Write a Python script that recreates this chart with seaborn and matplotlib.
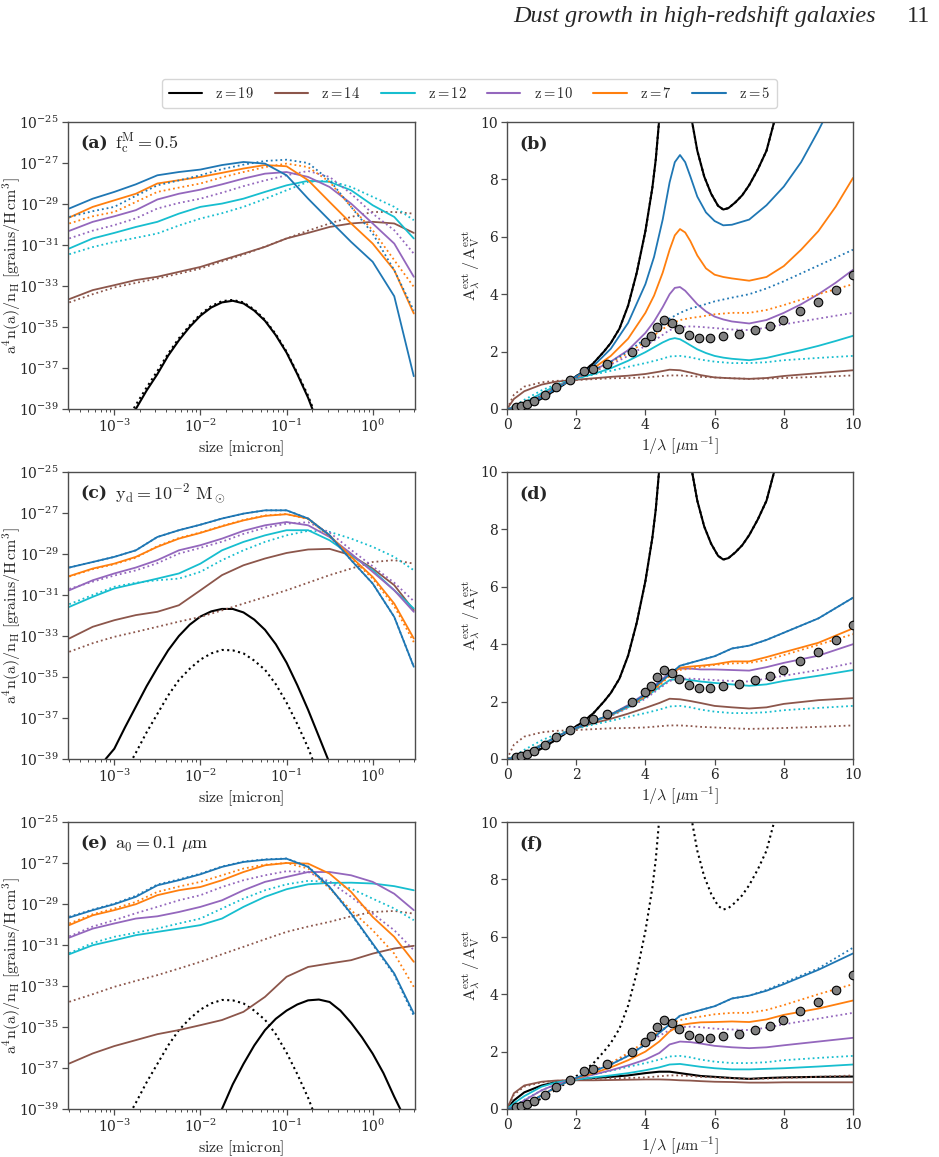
import numpy as np
import matplotlib
matplotlib.use("Agg")
import matplotlib.pyplot as plt
from matplotlib.lines import Line2D
from matplotlib.ticker import NullLocator, FixedLocator
import seaborn as sns

sns.set_style("ticks")
plt.rcParams['font.family'] = ['DejaVu Serif']
plt.rcParams['mathtext.fontset'] = 'cm'

# ---------------- data ----------------
redshifts = ["19", "14", "12", "10", "7", "5"]
colors = ["black", "#8c564b", "#17becf", "#9467bd", "#ff7f0e", "#1f77b4"]

# grain size grid [micron] for size distributions
size_um = [3.0e-4, 5.62e-4, 1.0e-3, 1.78e-3, 3.16e-3, 5.62e-3, 1.0e-2, 1.78e-2,
           3.16e-2, 5.62e-2, 0.1, 0.178, 0.316, 0.562, 1.0, 1.78, 3.0]

# log10[a^4 n(a)/n_H] panel (a)
a_z14_sol = [-33.64, -33.2, -32.96, -32.71, -32.55, -32.31, -32.07, -31.74, -31.42, -31.09, -30.68, -30.41, -30.12, -29.95, -29.87, -29.95, -30.41]
a_z14_dot = [-33.8, -33.4, -33.07, -32.85, -32.63, -32.4, -32.15, -31.8, -31.47, -31.08, -30.68, -30.3, -29.95, -29.63, -29.39, -29.39, -29.47]
a_z12_sol = [-31.17, -30.68, -30.41, -30.12, -29.87, -29.47, -29.14, -28.98, -28.74, -28.41, -28.09, -27.87, -27.92, -28.33, -29.06, -29.63, -30.68]
a_z12_dot = [-31.45, -31.1, -30.85, -30.65, -30.44, -30.05, -29.71, -29.45, -29.14, -28.75, -28.33, -27.92, -27.87, -28.17, -28.65, -29.14, -29.79]
a_z10_sol = [-30.31, -29.87, -29.6, -29.3, -28.78, -28.5, -28.3, -28.04, -27.76, -27.52, -27.44, -27.68, -28.17, -28.98, -29.95, -30.93, -32.55]
a_z10_dot = [-30.68, -30.3, -30.03, -29.7, -29.22, -28.95, -28.74, -28.45, -28.13, -27.85, -27.6, -27.39, -27.68, -28.5, -29.47, -30.28, -31.42]
a_z7_sol = [-29.66, -29.14, -28.82, -28.5, -28.0, -27.84, -27.68, -27.48, -27.27, -27.1, -27.16, -27.84, -28.9, -29.95, -30.93, -32.23, -34.34]
a_z7_dot = [-29.95, -29.6, -29.39, -28.9, -28.41, -28.2, -28.0, -27.7, -27.44, -27.2, -27.03, -27.2, -27.92, -29.14, -30.28, -31.74, -33.04]
a_z5_sol = [-29.22, -28.74, -28.41, -28.04, -27.6, -27.44, -27.32, -27.1, -26.95, -27.03, -27.6, -28.74, -29.8, -30.85, -31.82, -33.5, -37.4]
a_z5_dot = [-29.63, -29.35, -29.14, -28.6, -28.09, -27.85, -27.6, -27.3, -27.08, -26.9, -26.84, -27.0, -27.84, -29.14, -30.44, -32.23, -34.2]
# z=19 log-normal-like bumps: log10 size and log10 value
a_z19_logsize = [-2.9, -2.75, -2.625, -2.5, -2.375, -2.25, -2.125, -2.0, -1.875, -1.75, -1.625, -1.5, -1.375, -1.25, -1.125, -1.0, -0.875, -0.75, -0.7, -0.6]
a_z19_sol = [-40.1, -39.0, -38.1, -37.3, -36.4, -35.65, -35.0, -34.45, -34.05, -33.8, -33.72, -33.85, -34.2, -34.7, -35.4, -36.25, -37.3, -38.45, -39.0, -40.0]
a_z19_dot = [-39.9, -38.8, -37.95, -37.15, -36.3, -35.55, -34.92, -34.38, -33.98, -33.74, -33.68, -33.8, -34.15, -34.65, -35.35, -36.2, -37.25, -38.35, -38.9, -39.9]

# panel (c)
c_z14_sol = [-33.12, -32.55, -32.23, -31.98, -31.82, -31.5, -30.77, -30.03, -29.55, -29.22, -28.95, -28.78, -28.75, -29.06, -29.71, -30.52, -31.74]
c_z14_dot = [-33.77, -33.35, -33.04, -32.8, -32.55, -32.3, -32.07, -31.75, -31.42, -31.1, -30.77, -30.4, -30.03, -29.71, -29.39, -29.3, -29.47]
c_z12_sol = [-31.58, -31.09, -30.68, -30.44, -30.2, -29.95, -29.47, -28.82, -28.41, -28.09, -27.84, -27.84, -28.33, -29.06, -29.79, -30.77, -31.66]
c_z12_dot = [-31.45, -31.0, -30.6, -30.4, -30.28, -30.2, -29.87, -29.3, -28.82, -28.41, -28.09, -27.87, -27.92, -28.25, -28.65, -29.14, -29.79]
c_z10_sol = [-30.77, -30.28, -29.95, -29.66, -29.3, -28.82, -28.57, -28.25, -27.87, -27.6, -27.44, -27.6, -28.17, -28.98, -29.87, -30.77, -31.82]
c_z10_dot = [-30.7, -30.35, -30.05, -29.8, -29.45, -28.98, -28.7, -28.4, -28.02, -27.72, -27.52, -27.45, -27.95, -28.8, -29.6, -30.4, -31.3]
c_z7_sol = [-30.08, -29.71, -29.47, -29.14, -28.65, -28.25, -27.97, -27.65, -27.36, -27.14, -27.06, -27.27, -28.09, -29.14, -30.12, -31.42, -33.12]
c_z7_dot = [-30.1, -29.74, -29.5, -29.18, -28.62, -28.22, -27.95, -27.63, -27.34, -27.12, -27.05, -27.3, -28.15, -29.2, -30.2, -31.55, -33.3]
c_z5_sol = [-29.66, -29.39, -29.14, -28.82, -28.17, -27.84, -27.57, -27.27, -27.03, -26.87, -26.87, -27.27, -28.09, -29.3, -30.44, -32.07, -34.5]
c_z5_dot = [-29.66, -29.39, -29.14, -28.82, -28.17, -27.84, -27.57, -27.27, -27.03, -26.87, -26.87, -27.27, -28.09, -29.3, -30.44, -32.07, -34.5]
c_z19_sol_logsize = [-3.25, -3.1, -3.0, -2.875, -2.75, -2.625, -2.5, -2.375, -2.25, -2.125, -2.0, -1.875, -1.75, -1.625, -1.5, -1.375, -1.25, -1.125, -1.0, -0.875, -0.75, -0.625, -0.52, -0.4]
c_z19_sol = [-41.0, -39.0, -38.5, -37.45, -36.45, -35.45, -34.55, -33.7, -33.0, -32.45, -32.05, -31.8, -31.68, -31.68, -31.85, -32.2, -32.7, -33.4, -34.3, -35.4, -36.6, -37.9, -39.0, -40.5]
c_z19_dot_logsize = [-2.9, -2.79, -2.75, -2.625, -2.5, -2.375, -2.25, -2.125, -2.0, -1.875, -1.75, -1.625, -1.5, -1.375, -1.25, -1.125, -1.0, -0.875, -0.75, -0.7, -0.6]
c_z19_dot = [-39.9, -39.0, -38.7, -37.7, -36.8, -35.9, -35.15, -34.6, -34.15, -33.85, -33.68, -33.7, -33.85, -34.2, -34.65, -35.35, -36.25, -37.3, -38.45, -39.0, -40.0]

# panel (e)
e_z14_sol = [-36.78, -36.29, -35.93, -35.64, -35.35, -35.15, -34.91, -34.66, -34.26, -33.53, -32.55, -32.07, -31.9, -31.74, -31.42, -31.17, -31.04]
e_z14_dot = [-33.77, -33.4, -33.04, -32.75, -32.47, -32.15, -31.82, -31.45, -31.09, -30.72, -30.36, -30.1, -29.87, -29.6, -29.39, -29.34, -29.47]
e_z12_sol = [-31.45, -31.01, -30.77, -30.52, -30.36, -30.2, -30.03, -29.71, -29.14, -28.65, -28.28, -28.04, -27.97, -27.96, -28.0, -28.13, -28.33]
e_z12_dot = [-31.4, -30.9, -30.6, -30.4, -30.2, -29.95, -29.71, -29.22, -28.74, -28.33, -28.04, -27.87, -27.92, -28.25, -28.74, -29.22, -29.79]
e_z10_sol = [-30.64, -30.2, -29.95, -29.71, -29.6, -29.39, -29.14, -28.82, -28.33, -27.92, -27.68, -27.44, -27.44, -27.6, -27.92, -28.5, -29.3]
e_z10_dot = [-30.58, -30.1, -29.79, -29.45, -29.14, -28.82, -28.57, -28.17, -27.84, -27.6, -27.4, -27.44, -27.92, -28.65, -29.47, -30.28, -31.25]
e_z7_sol = [-30.03, -29.55, -29.3, -29.01, -28.57, -28.33, -28.17, -27.84, -27.44, -27.11, -27.0, -27.03, -27.52, -28.41, -29.63, -30.6, -31.82]
e_z7_dot = [-29.95, -29.5, -29.22, -28.9, -28.41, -28.15, -27.92, -27.6, -27.27, -27.08, -27.0, -27.27, -28.25, -29.3, -30.28, -31.42, -33.04]
e_z5_sol = [-29.66, -29.3, -29.01, -28.65, -28.09, -27.84, -27.55, -27.19, -26.95, -26.84, -26.79, -27.19, -28.17, -29.47, -30.93, -32.39, -34.34]
e_z5_dot = [-29.62, -29.27, -28.98, -28.6, -28.05, -27.8, -27.52, -27.17, -26.93, -26.82, -26.78, -27.17, -28.17, -29.5, -30.98, -32.45, -34.45]
e_z19_sol_logsize = [-1.9, -1.75, -1.625, -1.5, -1.375, -1.25, -1.125, -1.0, -0.875, -0.75, -0.625, -0.5, -0.375, -0.25, -0.125, 0.0, 0.125, 0.25, 0.32, 0.45]
e_z19_sol = [-40.3, -39.0, -37.8, -36.8, -35.9, -35.15, -34.6, -34.2, -33.9, -33.7, -33.66, -33.78, -34.2, -34.8, -35.5, -36.3, -37.25, -38.4, -39.0, -40.5]
e_z19_dot_logsize = c_z19_dot_logsize
e_z19_dot = c_z19_dot

# extinction curves: inverse wavelength grids [1/micron]
inv_wl = [0, 0.2, 0.5, 1.0, 1.4, 1.82, 2.5, 3.0, 3.5, 4.0, 4.4, 4.7, 5.0, 5.3, 5.6, 6.0, 6.5, 7.0, 7.5, 8.0, 9.0, 10.0]
inv_wl_fine = [0, 0.2, 0.5, 1.0, 1.4, 1.82, 2.5, 3.0, 3.5, 4.0, 4.25, 4.5, 4.7, 4.85, 5.0, 5.15, 5.3, 5.5, 5.75, 6.0, 6.25, 6.5, 7.0, 7.5, 8.0, 8.5, 9.0, 9.5, 10.0]
inv_wl_z19 = [0, 0.5, 1.0, 1.4, 1.82, 2.2, 2.5, 2.8, 3.0, 3.25, 3.5, 3.75, 4.0, 4.2, 4.3, 4.4, 4.6, 5.0, 5.25, 5.35, 5.5, 5.7, 5.9, 6.1, 6.25, 6.4, 6.6, 6.8, 7.0, 7.25, 7.5, 7.72, 8.0, 9.0, 10.0]
ext_z19_bump = [0, 0.12, 0.36, 0.66, 1.0, 1.3, 1.6, 2.0, 2.3, 2.8, 3.6, 4.75, 6.2, 7.7, 8.7, 10.1, 13.0, 16.0, 12.0, 10.0, 9.0, 8.1, 7.5, 7.08, 6.95, 7.0, 7.2, 7.45, 7.8, 8.35, 9.0, 10.0, 11.0, 15.0, 20.0]

b_z14_sol = [0, 0.35, 0.62, 0.85, 0.95, 1.0, 1.07, 1.12, 1.16, 1.22, 1.3, 1.37, 1.35, 1.27, 1.18, 1.1, 1.07, 1.05, 1.08, 1.15, 1.25, 1.35]
b_z14_dot = [0, 0.5, 0.78, 0.93, 0.98, 1.0, 1.04, 1.07, 1.08, 1.1, 1.14, 1.17, 1.17, 1.15, 1.12, 1.1, 1.07, 1.05, 1.06, 1.08, 1.12, 1.17]
b_z12_sol = [0, 0.06, 0.22, 0.55, 0.8, 1.0, 1.22, 1.42, 1.68, 1.98, 2.15, 2.32, 2.43, 2.47, 2.43, 2.33, 2.22, 2.08, 1.95, 1.85, 1.79, 1.75, 1.7, 1.78, 1.92, 2.05, 2.2, 2.37, 2.55]
b_z12_dot = [0, 0.1, 0.32, 0.65, 0.85, 1.0, 1.2, 1.33, 1.47, 1.6, 1.72, 1.83, 1.85, 1.8, 1.72, 1.65, 1.6, 1.6, 1.63, 1.7, 1.78, 1.85]
b_z10_sol = [0, 0.04, 0.16, 0.47, 0.75, 1.0, 1.35, 1.65, 2.05, 2.65, 3.05, 3.55, 4.0, 4.22, 4.25, 4.12, 3.92, 3.65, 3.4, 3.22, 3.12, 3.05, 2.98, 3.1, 3.35, 3.65, 4.0, 4.4, 4.85]
b_z10_dot = [0, 0.04, 0.16, 0.47, 0.75, 1.0, 1.3, 1.55, 1.85, 2.2, 2.5, 2.75, 2.85, 2.88, 2.86, 2.82, 2.77, 2.75, 2.83, 2.95, 3.15, 3.35]
b_z7_sol = [0, 0.03, 0.14, 0.43, 0.72, 1.0, 1.42, 1.85, 2.45, 3.35, 3.95, 4.75, 5.55, 6.05, 6.27, 6.15, 5.85, 5.35, 4.9, 4.68, 4.6, 4.55, 4.47, 4.6, 4.98, 5.55, 6.2, 7.05, 8.05]
b_z7_dot = [0, 0.04, 0.15, 0.45, 0.73, 1.0, 1.33, 1.6, 1.95, 2.35, 2.7, 2.95, 3.1, 3.17, 3.22, 3.3, 3.35, 3.35, 3.45, 3.62, 4.0, 4.35]
b_z5_sol = [0, 0.03, 0.12, 0.4, 0.7, 1.0, 1.5, 2.1, 3.0, 4.35, 5.3, 6.6, 7.9, 8.6, 8.85, 8.6, 8.1, 7.4, 6.85, 6.55, 6.4, 6.42, 6.6, 7.1, 7.75, 8.6, 9.7, 10.9, 12.0]
b_z5_dot = [0, 0.04, 0.16, 0.47, 0.75, 1.0, 1.35, 1.65, 2.0, 2.45, 2.85, 3.15, 3.35, 3.5, 3.6, 3.75, 3.88, 4.0, 4.2, 4.45, 5.0, 5.55]

d_z14_sol = [0, 0.06, 0.2, 0.5, 0.76, 1.0, 1.25, 1.4, 1.58, 1.78, 1.95, 2.1, 2.08, 2.02, 1.95, 1.85, 1.8, 1.76, 1.8, 1.92, 2.05, 2.12]
d_z14_dot = b_z14_dot
d_z12_sol = [0, 0.05, 0.18, 0.5, 0.76, 1.0, 1.3, 1.52, 1.8, 2.15, 2.5, 2.75, 2.8, 2.75, 2.7, 2.65, 2.6, 2.55, 2.6, 2.72, 2.9, 3.1]
d_z12_dot = b_z12_dot
d_z10_sol = [0, 0.04, 0.16, 0.47, 0.75, 1.0, 1.32, 1.55, 1.88, 2.28, 2.7, 3.0, 3.15, 3.15, 3.12, 3.12, 3.1, 3.08, 3.2, 3.35, 3.6, 4.0]
d_z10_dot = [0, 0.04, 0.16, 0.47, 0.75, 1.0, 1.3, 1.5, 1.78, 2.1, 2.45, 2.72, 2.8, 2.8, 2.78, 2.75, 2.72, 2.7, 2.8, 2.9, 3.1, 3.35]
d_z7_sol = [0, 0.04, 0.16, 0.47, 0.75, 1.0, 1.32, 1.55, 1.85, 2.2, 2.6, 2.95, 3.18, 3.22, 3.25, 3.3, 3.4, 3.4, 3.55, 3.72, 4.05, 4.55]
d_z7_dot = [0, 0.04, 0.16, 0.47, 0.75, 1.0, 1.3, 1.52, 1.82, 2.17, 2.55, 2.9, 3.1, 3.15, 3.2, 3.28, 3.33, 3.35, 3.45, 3.62, 3.98, 4.35]
d_z5_sol = [0, 0.04, 0.16, 0.47, 0.75, 1.0, 1.32, 1.55, 1.85, 2.25, 2.65, 2.95, 3.25, 3.35, 3.45, 3.58, 3.85, 3.95, 4.15, 4.4, 4.9, 5.62]
d_z5_dot = d_z5_sol

f_z19_sol = [0, 0.3, 0.58, 0.82, 0.93, 1.0, 1.08, 1.12, 1.17, 1.25, 1.3, 1.3, 1.25, 1.2, 1.15, 1.12, 1.08, 1.05, 1.08, 1.1, 1.12, 1.13]
f_z14_sol = [0, 0.55, 0.82, 0.95, 0.99, 1.0, 1.0, 1.01, 1.02, 1.03, 1.03, 1.02, 1.0, 0.99, 0.97, 0.95, 0.94, 0.92, 0.92, 0.93, 0.93, 0.93]
f_z14_dot = b_z14_dot
f_z12_sol = [0, 0.2, 0.45, 0.78, 0.92, 1.0, 1.1, 1.17, 1.25, 1.35, 1.45, 1.55, 1.57, 1.52, 1.47, 1.42, 1.38, 1.38, 1.4, 1.42, 1.48, 1.55]
f_z12_dot = b_z12_dot
f_z10_sol = [0, 0.08, 0.3, 0.65, 0.85, 1.0, 1.2, 1.35, 1.52, 1.72, 1.95, 2.25, 2.35, 2.33, 2.28, 2.2, 2.15, 2.12, 2.15, 2.22, 2.35, 2.48]
f_z10_dot = [0, 0.04, 0.16, 0.47, 0.75, 1.0, 1.35, 1.6, 1.9, 2.25, 2.55, 2.75, 2.85, 2.87, 2.85, 2.8, 2.77, 2.75, 2.83, 2.95, 3.15, 3.35]
f_z7_sol = [0, 0.03, 0.15, 0.48, 0.75, 1.0, 1.25, 1.45, 1.7, 2.0, 2.35, 2.7, 2.92, 2.98, 3.02, 3.03, 3.05, 3.03, 3.12, 3.28, 3.5, 3.78]
f_z7_dot = b_z7_dot
f_z5_sol = [0, 0.04, 0.16, 0.47, 0.75, 1.0, 1.32, 1.55, 1.85, 2.25, 2.65, 2.95, 3.25, 3.35, 3.45, 3.58, 3.85, 3.95, 4.12, 4.35, 4.85, 5.42]
f_z5_dot = d_z5_sol

# observed (SMC-like) extinction points
obs_x = [0.25, 0.41, 0.58, 0.78, 1.10, 1.43, 1.82, 2.23, 2.48, 2.90, 3.62, 3.99, 4.15, 4.33, 4.55, 4.77, 4.97, 5.25, 5.55, 5.88, 6.25, 6.71, 7.17, 7.59, 7.98, 8.48, 8.98, 9.50, 10.0]
obs_y = [0.08, 0.12, 0.19, 0.29, 0.49, 0.75, 1.0, 1.32, 1.40, 1.57, 2.00, 2.34, 2.56, 2.85, 3.11, 3.00, 2.80, 2.58, 2.48, 2.49, 2.53, 2.62, 2.74, 2.90, 3.10, 3.40, 3.74, 4.16, 4.66]

# ---------------- figure ----------------
W, H = 939, 1157
fig = plt.figure(figsize=(W / 100, H / 100), dpi=100)

def box(l, t, r, b):
    return [l / W, 1 - b / H, (r - l) / W, (b - t) / H]

rows = [(122, 409), (472, 759), (822, 1109)]
left_axes = [fig.add_axes(box(68, t, 415, b)) for t, b in rows]
right_axes = [fig.add_axes(box(507, t, 853, b)) for t, b in rows]

spine_col = "0.3"
tick_fs = 10
label_fs = 11.5

def line(ax, x, y, color, dotted=False, log=False, logx=False, lw=None):
    yy = 10.0 ** np.asarray(y) if log else np.asarray(y)
    xx = 10.0 ** np.asarray(x) if logx else np.asarray(x)
    if lw is None:
        lw = 1.5 if color == "black" else 1.3
    sns.lineplot(x=xx, y=yy, ax=ax, color=color, linewidth=lw,
                 linestyle=":" if dotted else "-", sort=False,
                 estimator=None, legend=False)

def style_axes(ax):
    for s in ax.spines.values():
        s.set_color(spine_col)
        s.set_linewidth(1.0)
    ax.tick_params(labelsize=tick_fs, color=spine_col, length=4, width=0.9, pad=2.5)
    ax.tick_params(which="minor", length=2.2, width=0.7, color=spine_col)

# left panels
left_sets = [
    [(a_z19_logsize, a_z19_sol, a_z19_logsize, a_z19_dot),
     (size_um, a_z14_sol, size_um, a_z14_dot),
     (size_um, a_z12_sol, size_um, a_z12_dot),
     (size_um, a_z10_sol, size_um, a_z10_dot),
     (size_um, a_z7_sol, size_um, a_z7_dot),
     (size_um, a_z5_sol, size_um, a_z5_dot)],
    [(c_z19_sol_logsize, c_z19_sol, c_z19_dot_logsize, c_z19_dot),
     (size_um, c_z14_sol, size_um, c_z14_dot),
     (size_um, c_z12_sol, size_um, c_z12_dot),
     (size_um, c_z10_sol, size_um, c_z10_dot),
     (size_um, c_z7_sol, size_um, c_z7_dot),
     (size_um, c_z5_sol, size_um, c_z5_dot)],
    [(e_z19_sol_logsize, e_z19_sol, e_z19_dot_logsize, e_z19_dot),
     (size_um, e_z14_sol, size_um, e_z14_dot),
     (size_um, e_z12_sol, size_um, e_z12_dot),
     (size_um, e_z10_sol, size_um, e_z10_dot),
     (size_um, e_z7_sol, size_um, e_z7_dot),
     (size_um, e_z5_sol, size_um, e_z5_dot)],
]
panel_left = ["(a)", "(c)", "(e)"]
panel_note = [r"$\mathrm{f_c^M = 0.5}$", r"$\mathrm{y_d = 10^{-2}\ M_\odot}$",
              r"$\mathrm{a_0 = 0.1\ \mu m}$"]

for ax, sets, lab, note in zip(left_axes, left_sets, panel_left, panel_note):
    ax.set_xscale("log")
    ax.set_yscale("log")
    for i, ((xs, ys, xd, yd), col) in enumerate(zip(sets, colors)):
        lx = (i == 0)
        line(ax, xs, ys, col, log=True, logx=lx)
        line(ax, xd, yd, col, dotted=True, log=True, logx=lx)
    ax.set_xlim(2.9e-4, 3.1)
    ax.set_ylim(1e-39, 1e-25)
    ax.yaxis.set_major_locator(FixedLocator([10.0 ** k for k in range(-39, -24, 2)]))
    ax.yaxis.set_minor_locator(NullLocator())
    ax.set_xlabel(r"$\mathrm{size\ [micron]}$", fontsize=label_fs, labelpad=2)
    ax.set_ylabel(r"$\mathrm{a^4n(a)/n_H\ [grains/H\,cm^3]}$", fontsize=label_fs)
    ax.yaxis.set_label_coords(-0.13, 0.5)
    ax.text(0.035, 0.925, lab, transform=ax.transAxes, fontsize=12.5,
            fontweight="bold", va="center", ha="left")
    ax.text(0.135, 0.925, note, transform=ax.transAxes, fontsize=13,
            va="center", ha="left")
    style_axes(ax)

# right panels
right_sets = [
    [(inv_wl_z19, ext_z19_bump, inv_wl_z19, ext_z19_bump),
     (inv_wl, b_z14_sol, inv_wl, b_z14_dot),
     (inv_wl_fine, b_z12_sol, inv_wl, b_z12_dot),
     (inv_wl_fine, b_z10_sol, inv_wl, b_z10_dot),
     (inv_wl_fine, b_z7_sol, inv_wl, b_z7_dot),
     (inv_wl_fine, b_z5_sol, inv_wl, b_z5_dot)],
    [(inv_wl_z19, ext_z19_bump, inv_wl_z19, ext_z19_bump),
     (inv_wl, d_z14_sol, inv_wl, d_z14_dot),
     (inv_wl, d_z12_sol, inv_wl, d_z12_dot),
     (inv_wl, d_z10_sol, inv_wl, d_z10_dot),
     (inv_wl, d_z7_sol, inv_wl, d_z7_dot),
     (inv_wl, d_z5_sol, inv_wl, d_z5_dot)],
    [(inv_wl, f_z19_sol, inv_wl_z19, ext_z19_bump),
     (inv_wl, f_z14_sol, inv_wl, f_z14_dot),
     (inv_wl, f_z12_sol, inv_wl, f_z12_dot),
     (inv_wl, f_z10_sol, inv_wl, f_z10_dot),
     (inv_wl, f_z7_sol, inv_wl, f_z7_dot),
     (inv_wl, f_z5_sol, inv_wl, f_z5_dot)],
]
panel_right = ["(b)", "(d)", "(f)"]

for ax, sets, lab in zip(right_axes, right_sets, panel_right):
    for (xs, ys, xd, yd), col in zip(sets, colors):
        line(ax, xs, ys, col)
        line(ax, xd, yd, col, dotted=True)
    sns.scatterplot(x=obs_x, y=obs_y, ax=ax, s=38, color="grey",
                    edgecolor="black", linewidth=0.8, zorder=5, legend=False)
    ax.set_xlim(0, 10)
    ax.set_ylim(0, 10)
    ax.set_xticks([0, 2, 4, 6, 8, 10])
    ax.set_yticks([0, 2, 4, 6, 8, 10])
    ax.set_xlabel(r"$1/\lambda\ [\mu\mathrm{m}^{-1}]$", fontsize=label_fs, labelpad=2)
    ax.set_ylabel(r"$\mathrm{A_\lambda^{ext}\,/\,A_V^{ext}}$", fontsize=label_fs)
    ax.yaxis.set_label_coords(-0.072, 0.5)
    ax.text(0.035, 0.925, lab, transform=ax.transAxes, fontsize=12.5,
            fontweight="bold", va="center", ha="left")
    style_axes(ax)

# legend
handles = [Line2D([0], [0], color=c, lw=1.5) for c in colors]
labels = [r"$\mathrm{z = %s}$" % z for z in redshifts]
fig.legend(handles, labels, loc="center", bbox_to_anchor=(469.5 / W, 1 - 93.5 / H),
           ncol=6, fontsize=10.5, frameon=True, handlelength=2.3,
           columnspacing=1.4, handletextpad=0.9, edgecolor="0.8",
           fancybox=True, borderpad=0.45)

# running header
fig.text(876 / W, 1 - 22 / H, "Dust growth in high-redshift galaxies",
         family="Liberation Serif", style="italic", fontsize=17.5,
         ha="right", va="baseline")
fig.text(930 / W, 1 - 22 / H, "11", family="Liberation Serif", fontsize=17.5,
         ha="right", va="baseline")

fig.savefig("out.png", dpi=100)
